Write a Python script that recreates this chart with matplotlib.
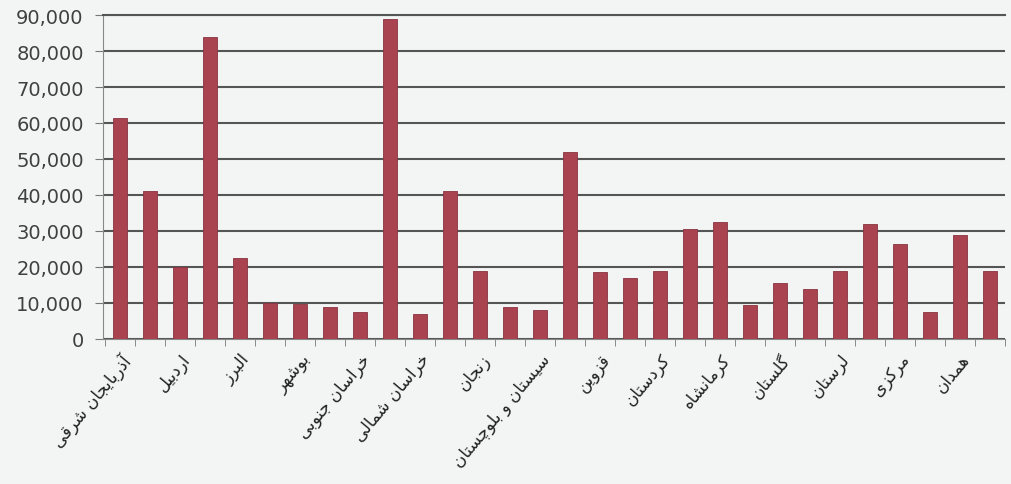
import matplotlib.pyplot as plt
import numpy as np

provinces = ["آذربایجان شرقی", "آذربایجان غربی", "اردبیل", "اصفهان", "البرز",
             "ایلام", "بوشهر", "چهارمحال و بختیاری", "خراسان جنوبی", "خراسان رضوی",
             "خراسان شمالی", "خوزستان", "زنجان", "سمنان", "سیستان و بلوچستان",
             "فارس", "قزوین", "قم", "کردستان", "کرمان",
             "کرمانشاه", "کهگیلویه و بویراحمد", "گلستان", "گیلان", "لرستان",
             "مازندران", "مرکزی", "هرمزگان", "همدان", "یزد"]
values = [61500, 41000, 20000, 84000, 22500,
          10000, 9800, 8800, 7500, 89000,
          7000, 41000, 19000, 9000, 8000,
          52000, 18500, 17000, 19000, 30500,
          32500, 9500, 15500, 14000, 19000,
          32000, 26500, 7500, 29000, 19000]
y_ticks = [0, 10000, 20000, 30000, 40000, 50000, 60000, 70000, 80000, 90000]

# Arabic presentation forms: isolated, final, initial, medial
FORMS = {
    "ا": "\ufe8d\ufe8e", "آ": "\ufe81\ufe82", "د": "\ufea9\ufeaa", "ذ": "\ufeab\ufeac",
    "ر": "\ufead\ufeae", "ز": "\ufeaf\ufeb0", "و": "\ufeed\ufeee", "ژ": "\ufb8a\ufb8b",
    "ب": "\ufe8f\ufe90\ufe91\ufe92", "ت": "\ufe95\ufe96\ufe97\ufe98",
    "ج": "\ufe9d\ufe9e\ufe9f\ufea0", "ح": "\ufea1\ufea2\ufea3\ufea4",
    "خ": "\ufea5\ufea6\ufea7\ufea8", "س": "\ufeb1\ufeb2\ufeb3\ufeb4",
    "ش": "\ufeb5\ufeb6\ufeb7\ufeb8", "ف": "\ufed1\ufed2\ufed3\ufed4",
    "ق": "\ufed5\ufed6\ufed7\ufed8", "ل": "\ufedd\ufede\ufedf\ufee0",
    "م": "\ufee1\ufee2\ufee3\ufee4", "ن": "\ufee5\ufee6\ufee7\ufee8",
    "ه": "\ufee9\ufeea\ufeeb\ufeec", "ی": "\ufbfc\ufbfd\ufbfe\ufbff",
    "ک": "\ufb8e\ufb8f\ufb90\ufb91", "گ": "\ufb92\ufb93\ufb94\ufb95",
    "چ": "\ufb7a\ufb7b\ufb7c\ufb7d", "پ": "\ufb56\ufb57\ufb58\ufb59",
}


def shape(text):
    out = []
    for i, c in enumerate(text):
        if c not in FORMS:
            out.append(c)
            continue
        prev = text[i - 1] if i > 0 else ""
        nxt = text[i + 1] if i + 1 < len(text) else ""
        jp = prev in FORMS and len(FORMS[prev]) == 4
        jn = len(FORMS[c]) == 4 and nxt in FORMS
        f = FORMS[c]
        if jp and jn:
            out.append(f[3])
        elif jp:
            out.append(f[1])
        elif jn:
            out.append(f[2])
        else:
            out.append(f[0])
    return "".join(out)[::-1]


fig = plt.figure(figsize=(10.11, 4.85), dpi=100, facecolor="#f3f4f4")
ax = fig.add_axes([0.102, 0.299, 0.892, 0.668])
ax.set_facecolor("#f3f4f4")

x = np.arange(len(provinces))
ax.bar(x, values, width=0.45, color="#a8434f", edgecolor="#8a3340", linewidth=0.6, zorder=3)

ax.set_xlim(-0.56, len(provinces) - 0.62)
ax.set_ylim(0, 90000)
ax.set_yticks(y_ticks)
ax.set_yticklabels(["{:,}".format(v) for v in y_ticks], fontsize=14, color="#404040")
ax.grid(axis="y", color="#555555", linewidth=1.5, zorder=0)

labels = [shape(p) if i % 2 == 0 else "" for i, p in enumerate(provinces)]
ax.set_xticks(x)
ax.set_xticklabels(labels, rotation=50, ha="right", rotation_mode="anchor",
                   fontsize=12, color="#222222", family="DejaVu Sans")
ax.tick_params(axis="x", length=0, pad=8)
ax.set_xticks(np.arange(len(provinces) + 1) - 0.5, minor=True)
ax.tick_params(axis="x", which="minor", length=5, color="#777777")
ax.tick_params(axis="y", length=6, color="#777777", pad=8)

for s in ["right"]:
    ax.spines[s].set_visible(False)
ax.spines["top"].set_color("#555555")
ax.spines["top"].set_linewidth(1.5)
ax.spines["left"].set_color("#888888")
ax.spines["bottom"].set_color("#888888")

plt.savefig("out.png", dpi=100, facecolor=fig.get_facecolor())
